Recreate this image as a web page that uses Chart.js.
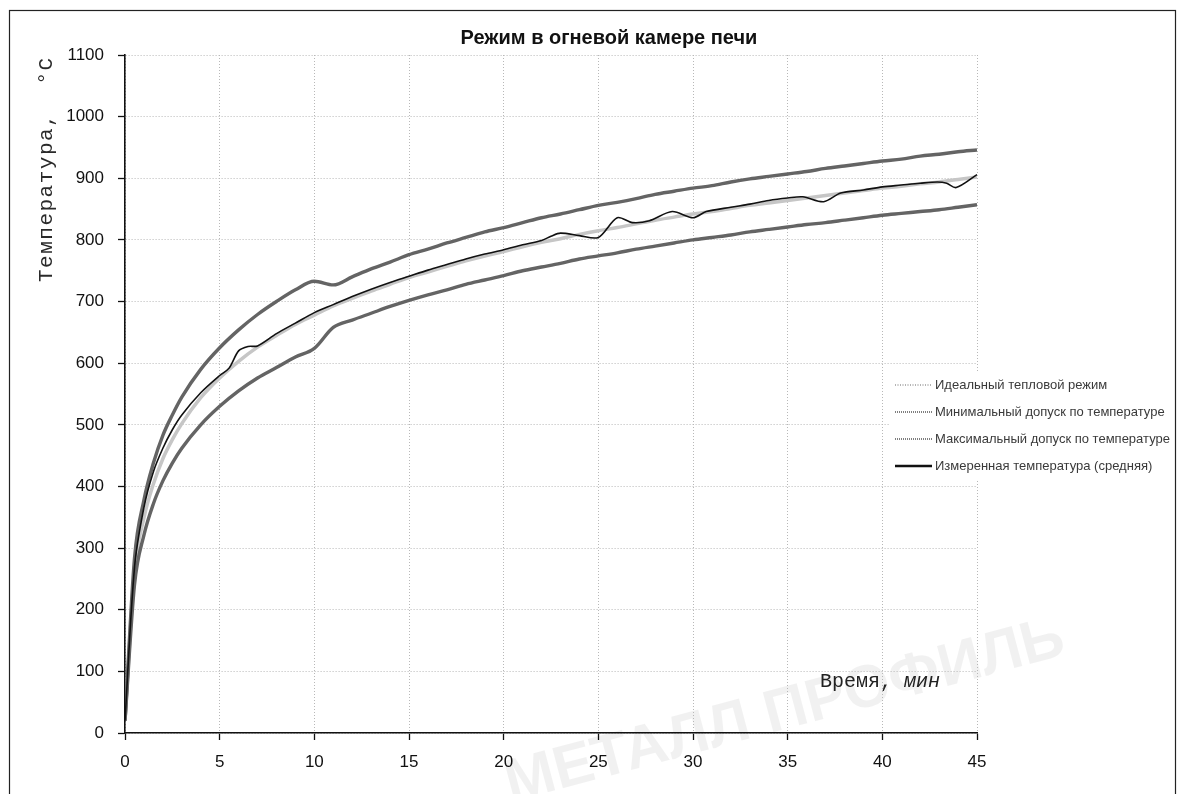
<!DOCTYPE html>
<html lang="ru">
<head>
<meta charset="utf-8">
<title>Режим в огневой камере печи</title>
<script src="https://cdn.jsdelivr.net/npm/chart.js@4.4.1/dist/chart.umd.min.js"></script>
<style>
    html, body { margin: 0; padding: 0; background: #ffffff; }
    canvas { display: block; }
</style>
</head>
<body>
<canvas id="graficaPechi" width="1179" height="794"></canvas>
<script>
// время, мин (общая шкала для эталонной кривой и допусков)
const minuty = [0, 0.5, 1, 1.5, 2, 2.5, 3, 4, 5, 6, 7, 8, 9, 10,
    11, 12, 13, 14, 15, 16, 17, 18, 19, 20, 21, 22, 23, 24, 25,
    26, 27, 28, 29, 30, 31, 32, 33, 34, 35, 36, 37, 38, 39, 40,
    41, 42, 43, 44, 45];

const idealnyj = [20, 261, 349, 404, 445, 476, 502, 544, 576, 603, 626, 645, 663, 678,
    693, 705, 717, 728, 739, 748, 757, 766, 774, 781, 789, 796, 802, 809, 815,
    820, 826, 832, 837, 842, 846, 851, 856, 860, 864, 868, 872, 876, 880, 884,
    887, 891, 894, 898, 902];

const minDopusk = [20, 240, 321, 372, 409, 438, 462, 500, 530, 555, 576, 593, 610, 624,
    658, 670, 681, 692, 702, 711, 719, 728, 735, 742, 750, 756, 762, 769, 774,
    779, 785, 790, 795, 800, 804, 808, 813, 817, 821, 825, 828, 832, 836, 840,
    843, 846, 849, 853, 857];

const maxDopusk = [20, 283, 378, 438, 483, 516, 545, 590, 625, 654, 679, 700, 719, 733,
    727, 740, 753, 764, 776, 785, 795, 804, 813, 820, 828, 836, 842, 849, 856,
    861, 867, 874, 879, 884, 888, 894, 899, 903, 907, 911, 916, 920, 924, 928,
    931, 936, 939, 943, 946];

// измеренная температура (средняя)
const minutyIzm = [0, 0.5, 1, 1.5, 2, 2.5, 3, 4, 5, 5.5, 6, 6.5, 7, 8, 9, 10,
    11, 12, 13, 14, 15, 16, 17, 18, 19, 20, 21, 22, 22.5, 23, 24, 25,
    26, 26.8, 27.7, 28.9, 30, 30.7, 32, 33, 34, 35, 35.8, 36.9, 37.8, 39, 40,
    41, 42, 42.9, 43.4, 43.9, 45];

const izmerennaya = [20, 268, 366, 424, 462, 492, 516, 552, 580, 592, 620, 627, 628, 648, 665, 682,
    695, 708, 720, 731, 741, 751, 760, 769, 777, 784, 792, 799, 806, 811, 807, 804,
    836, 828, 831, 846, 836, 846, 853, 858, 864, 868, 870, 862, 876, 881, 886,
    889, 892, 894, 892, 885, 906];

const ticksY = [0, 100, 200, 300, 400, 500, 600, 700, 800, 900, 1000, 1100];
const ticksX = [0, 5, 10, 15, 20, 25, 30, 35, 40, 45];

const nazvaniya = [
    "Идеальный тепловой режим",
    "Минимальный допуск по температуре",
    "Максимальный допуск по температуре",
    "Измеренная температура (средняя)"
];

const fuenteNum = "'Liberation Sans', Arial, sans-serif";
const fuenteMono = "'Liberation Mono', 'Courier New', monospace";

function puntos(xs, ys) {
    return xs.map((x, i) => ({ x: x, y: ys[i] }));
}

const pluginPodpisi = {
    id: "podpisi",
    beforeDraw(chart) {
        const ctx = chart.ctx;
        ctx.save();
        ctx.fillStyle = "#ffffff";
        ctx.fillRect(0, 0, chart.width, chart.height);
        // водяной знак
        ctx.translate(785, 712);
        ctx.rotate(-0.26);
        ctx.fillStyle = "rgba(0,0,0,0.055)";
        ctx.font = "bold 60px 'Liberation Sans', Arial, sans-serif";
        ctx.textAlign = "center";
        ctx.textBaseline = "middle";
        ctx.fillText("МЕТАЛЛ ПРОФИЛЬ", 0, 0);
        ctx.restore();
    },
    afterDraw(chart) {
        const ctx = chart.ctx;
        ctx.save();

        // рамка
        ctx.strokeStyle = "#222222";
        ctx.lineWidth = 1.2;
        ctx.strokeRect(9.5, 10.5, 1166, 800);

        // заголовок
        ctx.fillStyle = "#111111";
        ctx.font = "bold 20px 'Liberation Sans', Arial, sans-serif";
        ctx.textAlign = "center";
        ctx.textBaseline = "middle";
        ctx.fillText("Режим в огневой камере печи", 609, 38);

        // подпись оси Y
        ctx.save();
        ctx.translate(46, 282);
        ctx.rotate(-Math.PI / 2);
        ctx.font = "21px " + fuenteMono;
        ctx.letterSpacing = "1.5px";
        ctx.textAlign = "left";
        ctx.fillStyle = "#2a2a2a";
        ctx.fillText("Температура,  °С", 0, 0);
        ctx.restore();

        // подпись оси X
        ctx.textAlign = "left";
        ctx.textBaseline = "alphabetic";
        ctx.fillStyle = "#222222";
        ctx.font = "20px " + fuenteMono;
        ctx.fillText("Время,", 820, 687);
        const w = ctx.measureText("Время, ").width;
        ctx.font = "italic 20px " + fuenteMono;
        ctx.fillText("мин", 820 + w, 687);

        // легенда
        ctx.fillStyle = "#ffffff";
        ctx.fillRect(890, 372, 280, 108);
        const filas = [385, 412, 439, 466];
        const estilos = [
            { color: "#9a9a9a", ancho: 1.5, dash: [1, 1.5] },
            { color: "#555555", ancho: 1.5, dash: [1, 1] },
            { color: "#555555", ancho: 1.5, dash: [1, 1] },
            { color: "#111111", ancho: 2.5, dash: [] }
        ];
        ctx.font = "13px 'Liberation Sans', Arial, sans-serif";
        ctx.textBaseline = "middle";
        filas.forEach((y, i) => {
            const e = estilos[i];
            ctx.beginPath();
            ctx.setLineDash(e.dash);
            ctx.strokeStyle = e.color;
            ctx.lineWidth = e.ancho;
            ctx.moveTo(895, y);
            ctx.lineTo(932, y);
            ctx.stroke();
            ctx.setLineDash([]);
            ctx.fillStyle = "#3a3a3a";
            ctx.fillText(nazvaniya[i], 935, y);
        });

        ctx.restore();
    }
};

new Chart(document.getElementById("graficaPechi"), {
    type: "line",
    data: {
        datasets: [
            {
                label: nazvaniya[3],
                data: puntos(minutyIzm, izmerennaya),
                borderColor: "#111111",
                borderWidth: 1.6,
                pointRadius: 0,
                tension: 0.3,
                order: 0
            },
            {
                label: nazvaniya[1],
                data: puntos(minuty, minDopusk),
                borderColor: "#646464",
                borderWidth: 3.4,
                pointRadius: 0,
                cubicInterpolationMode: "monotone",
                order: 1
            },
            {
                label: nazvaniya[2],
                data: puntos(minuty, maxDopusk),
                borderColor: "#646464",
                borderWidth: 3.4,
                pointRadius: 0,
                cubicInterpolationMode: "monotone",
                order: 1
            },
            {
                label: nazvaniya[0],
                data: puntos(minuty, idealnyj),
                borderColor: "#c6c6c6",
                borderWidth: 3.5,
                pointRadius: 0,
                cubicInterpolationMode: "monotone",
                order: 2
            }
        ]
    },
    options: {
        responsive: false,
        animation: false,
        layout: {
            padding: { left: 50, right: 202, top: 55, bottom: 21 }
        },
        plugins: {
            legend: { display: false },
            title: { display: false },
            tooltip: { enabled: false }
        },
        scales: {
            x: {
                type: "linear",
                min: 0,
                max: 45,
                afterFit: (s) => { s.height = 40; },
                afterBuildTicks: (s) => { s.ticks = ticksX.map(v => ({ value: v })); },
                ticks: {
                    padding: 12,
                    color: "#111111",
                    font: { family: fuenteNum, size: 17 },
                    callback: (v) => String(v)
                },
                grid: {
                    color: "#b8b8b8",
                    lineWidth: 1,
                    tickLength: 7,
                    tickColor: "#111111",
                    tickWidth: 1.3
                },
                border: { color: "#111111", width: 1.6, dash: [1, 2] }
            },
            y: {
                min: 0,
                max: 1100,
                afterFit: (s) => { s.width = 75; },
                afterBuildTicks: (s) => { s.ticks = ticksY.map(v => ({ value: v })); },
                ticks: {
                    padding: 14,
                    color: "#111111",
                    font: { family: fuenteNum, size: 17 },
                    callback: (v) => String(v)
                },
                grid: {
                    color: "#b8b8b8",
                    lineWidth: 1,
                    tickLength: 7,
                    tickColor: "#111111",
                    tickWidth: 1.3
                },
                border: { color: "#111111", width: 1.6, dash: [1, 2] }
            }
        }
    },
    plugins: [pluginPodpisi]
});
</script>
</body>
</html>
